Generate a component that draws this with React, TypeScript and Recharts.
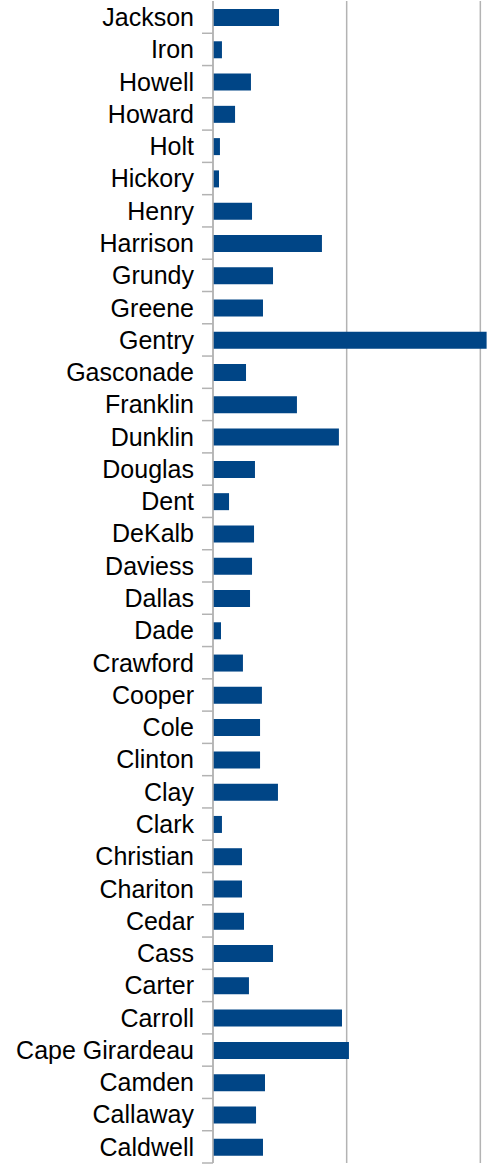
import React from "react";
import { Bar, BarChart, CartesianGrid, XAxis, YAxis } from "recharts";

const counties = [
  "Jackson", "Iron", "Howell", "Howard", "Holt", "Hickory", "Henry", "Harrison", "Grundy",
  "Greene", "Gentry", "Gasconade", "Franklin", "Dunklin", "Douglas", "Dent", "DeKalb",
  "Daviess", "Dallas", "Dade", "Crawford", "Cooper", "Cole", "Clinton", "Clay", "Clark",
  "Christian", "Chariton", "Cedar", "Cass", "Carter", "Carroll", "Cape Girardeau", "Camden",
  "Callaway", "Caldwell",
];

const values = [
  49.4, 6.7, 28.4, 16.5, 5.2, 4.5, 29.2, 81.5, 44.9,
  37.4, 204.7, 24.7, 62.8, 94.2, 31.4, 12.0, 30.7,
  29.2, 27.7, 6.0, 22.4, 36.6, 35.2, 35.2, 48.6, 6.7,
  21.7, 21.7, 23.2, 44.9, 26.9, 96.5, 101.7, 38.9,
  32.2, 37.4,
];

const gridTicks = [0, 100, 200, 300];

const data = counties.map((name, i) => ({ name, value: values[i] }));

const TOP = 1;
const BOTTOM = 4;
const HEIGHT = 1167;
const BAND = (HEIGHT - TOP - BOTTOM) / counties.length;
const AXIS_W = 213;

function CountyTick(props: any) {
  const { x, y, payload } = props;
  const axisX = x + 19;
  return (
    <g>
      <text
        x={x}
        y={y}
        dy="0.355em"
        textAnchor="end"
        fontFamily="'Liberation Sans', Arial, sans-serif"
        fontSize={25}
        fill="#000"
      >
        {payload.value}
      </text>
      <line x1={axisX - 11} x2={axisX} y1={y + BAND / 2} y2={y + BAND / 2} stroke="#b3b3b3" strokeWidth={1.5} />
    </g>
  );
}

export default function App() {
  return (
    <div style={{ position: "absolute", left: 0, top: 0, width: 497, height: HEIGHT, overflow: "hidden", background: "#fff" }}>
      <BarChart
        width={614}
        height={HEIGHT}
        data={data}
        layout="vertical"
        margin={{ top: TOP, right: 0, left: 0, bottom: BOTTOM }}
      >
        <CartesianGrid horizontal={false} stroke="#b3b3b3" strokeWidth={1.5} />
        <XAxis type="number" domain={[0, 300]} ticks={gridTicks} hide />
        <YAxis
          type="category"
          dataKey="name"
          width={AXIS_W}
          interval={0}
          tickLine={false}
          tickSize={0}
          tickMargin={19}
          axisLine={{ stroke: "#b3b3b3", strokeWidth: 1.5 }}
          tick={<CountyTick />}
        />
        <Bar dataKey="value" fill="#004586" barSize={17} isAnimationActive={false} />
      </BarChart>
    </div>
  );
}
